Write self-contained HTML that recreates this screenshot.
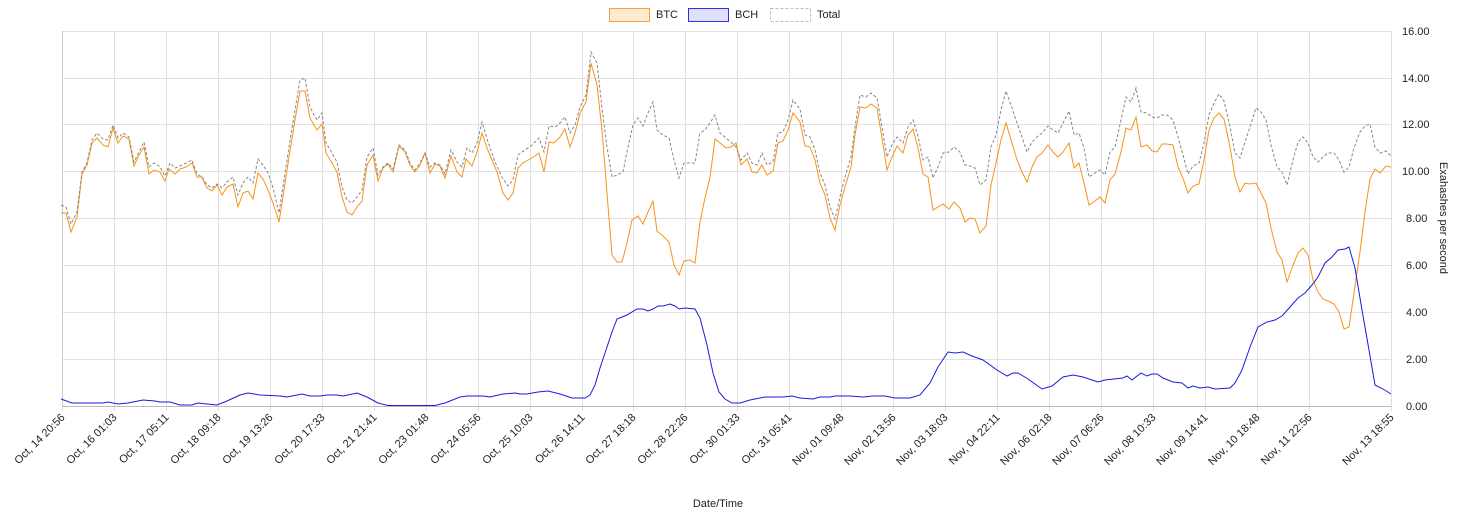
<!DOCTYPE html>
<html><head><meta charset="utf-8"><style>
html,body{margin:0;padding:0;background:#fff;}
svg{display:block;font-family:"Liberation Sans",sans-serif;}
</style></head><body>
<svg width="1470" height="524" viewBox="0 0 1470 524" xmlns="http://www.w3.org/2000/svg">
<g stroke="#e0e0e0" stroke-width="1">
<line x1="62" y1="31.5" x2="1391" y2="31.5"/>
<line x1="62" y1="78.5" x2="1391" y2="78.5"/>
<line x1="62" y1="124.5" x2="1391" y2="124.5"/>
<line x1="62" y1="171.5" x2="1391" y2="171.5"/>
<line x1="62" y1="218.5" x2="1391" y2="218.5"/>
<line x1="62" y1="265.5" x2="1391" y2="265.5"/>
<line x1="62" y1="312.5" x2="1391" y2="312.5"/>
<line x1="62" y1="359.5" x2="1391" y2="359.5"/>
</g>
<g id="vg" stroke="#e0e0e0" stroke-width="1"></g>
<line x1="62.5" y1="31" x2="62.5" y2="406" stroke="#ccc"/>
<line x1="62" y1="406.5" x2="1391" y2="406.5" stroke="#bbb"/>
<g font-size="11" fill="#222">
<text x="1402" y="35">16.00</text><text x="1402" y="82">14.00</text><text x="1402" y="128">12.00</text><text x="1402" y="175">10.00</text><text x="1406" y="222">8.00</text><text x="1406" y="269">6.00</text><text x="1406" y="316">4.00</text><text x="1406" y="363">2.00</text><text x="1406" y="410">0.00</text>
</g>
<text font-size="11" fill="#222" transform="translate(1440,218) rotate(90)" text-anchor="middle">Exahashes per second</text>
<text font-size="11" fill="#222" x="718" y="507" text-anchor="middle">Date/Time</text>
<g id="xl" font-size="11" fill="#222"></g>
<rect x="609.5" y="8.5" width="40" height="13" fill="#fdebd3" stroke="#f7a040"/>
<text x="656" y="18" font-size="11" fill="#222">BTC</text>
<rect x="688.5" y="8.5" width="40" height="13" fill="#e0e0fa" stroke="#3030e0"/>
<text x="735" y="18" font-size="11" fill="#222">BCH</text>
<rect x="770.5" y="8.5" width="40" height="13" fill="none" stroke="#bbb" stroke-dasharray="3,2"/>
<text x="817" y="18" font-size="11" fill="#222">Total</text>
<polyline fill="none" stroke="#f7931a" stroke-width="1" points="61,213 66,213 71,232 77,217 82,174 87,165 92,143 97,138 103,145 108,147 113,128 118,143 123,136 129,139 134,166 139,155 144,147 149,174 154,170 160,172 165,181 169,169 175,174 180,169 186,167 192,163 197,177 202,177 207,188 212,191 217,185 222,195 227,187 233,184 238,207 243,193 248,191 253,199 258,173 263,179 268,190 273,203 279,222 284,190 289,157 295,120 300,91 305,91 310,118 317,130 322,124 326,153 332,163 337,172 342,197 347,212 352,215 357,207 362,201 367,165 373,155 378,181 383,168 388,164 393,172 399,146 405,152 410,165 415,172 420,165 425,153 430,173 435,164 440,166 445,178 451,156 457,172 462,177 466,159 472,166 477,152 482,133 487,148 492,160 497,172 503,193 508,200 513,193 518,168 523,163 530,159 535,156 539,153 544,172 549,142 554,143 560,137 565,129 570,147 575,133 580,113 586,102 591,63 597,85 602,130 607,193 612,255 617,262 622,262 627,243 632,220 638,216 643,224 648,212 653,201 657,231 663,236 669,242 674,265 679,275 684,261 690,260 695,263 700,222 705,198 710,177 715,139 720,143 726,148 731,147 736,143 741,165 747,159 752,172 757,173 762,165 767,175 773,171 778,143 783,141 788,130 793,113 800,122 805,146 810,147 815,160 820,183 825,195 830,218 835,230 840,205 845,187 851,167 855,135 860,107 866,108 871,104 877,108 882,138 887,170 892,157 897,146 903,153 908,135 913,129 918,148 923,174 928,177 933,210 938,207 943,204 949,209 954,202 960,208 965,222 970,218 975,219 980,233 986,226 991,185 996,163 1001,140 1006,123 1012,143 1017,160 1022,172 1027,182 1032,167 1037,157 1042,153 1048,145 1053,152 1058,157 1063,152 1069,143 1074,168 1079,163 1084,183 1089,205 1095,201 1100,197 1105,203 1110,180 1115,174 1121,152 1126,128 1131,130 1136,117 1141,147 1147,145 1152,151 1157,152 1162,144 1167,144 1173,145 1178,167 1183,178 1188,193 1193,186 1199,184 1204,160 1209,130 1214,118 1219,113 1224,119 1230,147 1235,177 1240,192 1245,183 1250,184 1256,183 1261,193 1266,203 1271,228 1277,252 1282,260 1287,282 1293,265 1298,253 1303,248 1308,255 1313,280 1318,292 1323,299 1328,301 1334,304 1339,312 1344,329 1349,327 1354,293 1360,252 1365,212 1370,179 1375,169 1380,173 1386,166 1391,167"/>
<polyline fill="none" stroke="#1a1ae0" stroke-width="1" points="61,399 72,403 103,403 108,402 118,404 128,403 143,400 155,401 160,402 170,402 180,405 192,405 198,403 207,404 217,405 227,401 240,395 248,393 260,395 280,396 287,397 302,394 310,396 320,396 327,395 337,395 343,396 357,393 367,397 378,403 388,405.5 435,405.5 445,403 460,397 467,396 483,396 490,397 503,394 515,393 520,394 527,394 538,392 548,391 560,394 572,398 585,398 590,395 595,385 600,368 607,347 612,332 617,319 627,315 637,309 643,309 648,311 653,309 658,306 663,306 670,304 675,306 679,309 685,308 695,309 700,318 707,345 713,373 719,392 725,399 732,403 740,403 750,400 760,398 765,397 783,397 792,396 800,398 813,399 820,397 830,397 835,396 850,396 863,397 873,396 885,396 890,397 895,398 910,398 920,395 930,383 938,367 948,352 955,353 963,352 972,356 983,360 997,370 1007,376 1013,373 1018,373 1028,379 1042,389 1052,386 1063,377 1073,375 1083,377 1098,382 1105,380 1123,378 1127,376 1132,380 1141,373 1147,376 1152,374 1157,374 1163,378 1173,382 1182,383 1188,388 1193,386 1200,388 1208,387 1215,389 1230,388 1235,383 1242,370 1250,347 1258,327 1267,322 1275,320 1282,316 1290,307 1298,298 1305,293 1312,285 1318,277 1325,263 1332,257 1338,250 1345,249 1349,247 1355,268 1362,310 1369,350 1375,385 1383,389 1391,394"/>
<polyline fill="none" stroke="#888" stroke-width="1" stroke-dasharray="3,2" points="61,205 66,207 71,224 77,212 82,172 87,163 92,140 97,133 103,139 108,140 113,125 118,138 123,133 129,137 134,162 139,152 144,142 149,167 154,163 160,167 165,176 170,163 175,168 180,166 186,163 192,160 197,174 202,177 207,185 212,188 217,184 222,188 227,182 233,177 238,195 243,183 248,177 253,183 258,159 263,165 268,173 273,188 279,213 284,180 289,147 295,110 300,80 305,78 310,107 317,120 322,113 326,143 332,153 337,162 342,187 347,200 352,203 357,197 362,190 367,157 373,148 378,175 383,167 388,163 393,169 399,145 405,150 410,163 415,170 420,163 425,153 430,167 435,163 440,165 445,174 451,150 457,162 462,167 467,148 472,153 477,143 482,122 488,142 495,162 502,177 508,186 513,180 518,155 525,150 532,145 539,138 544,152 549,126 555,127 560,123 565,117 570,133 575,125 580,107 586,95 591,52 597,63 602,108 607,147 612,177 617,175 623,172 628,147 633,125 638,118 643,126 648,113 653,102 657,130 663,135 669,138 674,160 679,178 684,163 690,163 695,163 700,133 705,130 710,123 715,115 720,133 726,138 731,142 736,147 741,160 747,153 752,163 757,165 762,153 767,165 773,162 778,133 783,132 788,120 793,100 800,109 805,135 810,137 815,150 820,173 825,185 830,207 835,219 840,197 845,177 851,157 855,127 860,95 866,97 871,93 877,98 882,127 887,157 892,145 897,137 903,143 908,127 913,120 918,136 923,160 928,157 933,178 938,167 943,153 949,152 954,147 960,152 965,165 970,166 975,168 980,185 986,180 991,147 996,135 1001,110 1006,91 1012,108 1017,123 1022,137 1027,152 1032,142 1037,137 1042,133 1048,126 1053,130 1058,133 1063,123 1069,111 1074,135 1079,133 1084,148 1089,177 1095,173 1100,170 1105,175 1110,152 1115,147 1121,120 1126,97 1131,102 1136,88 1141,112 1147,113 1152,117 1157,118 1162,115 1167,115 1173,120 1178,137 1183,155 1188,174 1193,166 1199,163 1204,143 1209,115 1214,103 1219,94 1224,101 1230,127 1235,153 1240,158 1245,142 1250,127 1256,108 1261,112 1266,120 1271,145 1277,167 1282,172 1287,185 1293,160 1298,142 1303,137 1308,143 1313,157 1318,162 1323,157 1328,153 1334,153 1339,160 1344,172 1349,167 1354,148 1360,132 1365,126 1370,124 1375,147 1380,153 1386,151 1391,156"/>
<script>
var labels=["Oct, 14 20:56","Oct, 16 01:03","Oct, 17 05:11","Oct, 18 09:18","Oct, 19 13:26","Oct, 20 17:33","Oct, 21 21:41","Oct, 23 01:48","Oct, 24 05:56","Oct, 25 10:03","Oct, 26 14:11","Oct, 27 18:18","Oct, 28 22:26","Oct, 30 01:33","Oct, 31 05:41","Nov, 01 09:48","Nov, 02 13:56","Nov, 03 18:03","Nov, 04 22:11","Nov, 06 02:18","Nov, 07 06:26","Nov, 08 10:33","Nov, 09 14:41","Nov, 10 18:48","Nov, 11 22:56","Nov, 13 18:55"];
var ns="http://www.w3.org/2000/svg",vg=document.getElementById("vg"),xl=document.getElementById("xl");
for(var i=0;i<26;i++){var x=i<25?Math.round(62+51.95*i)+0.5:1391.5;
if(i>0){var l=document.createElementNS(ns,"line");l.setAttribute("x1",x);l.setAttribute("x2",x);l.setAttribute("y1",31);l.setAttribute("y2",411);vg.appendChild(l);}
else{var l=document.createElementNS(ns,"line");l.setAttribute("x1",x);l.setAttribute("x2",x);l.setAttribute("y1",406);l.setAttribute("y2",411);vg.appendChild(l);}
var t=document.createElementNS(ns,"text");t.setAttribute("text-anchor","end");var tx=x+3,ty=418;t.setAttribute("x",tx);t.setAttribute("y",ty);t.setAttribute("transform","rotate(-45 "+tx+" "+ty+")");t.textContent=labels[i];xl.appendChild(t);}
</script>
</svg>
</body></html>
